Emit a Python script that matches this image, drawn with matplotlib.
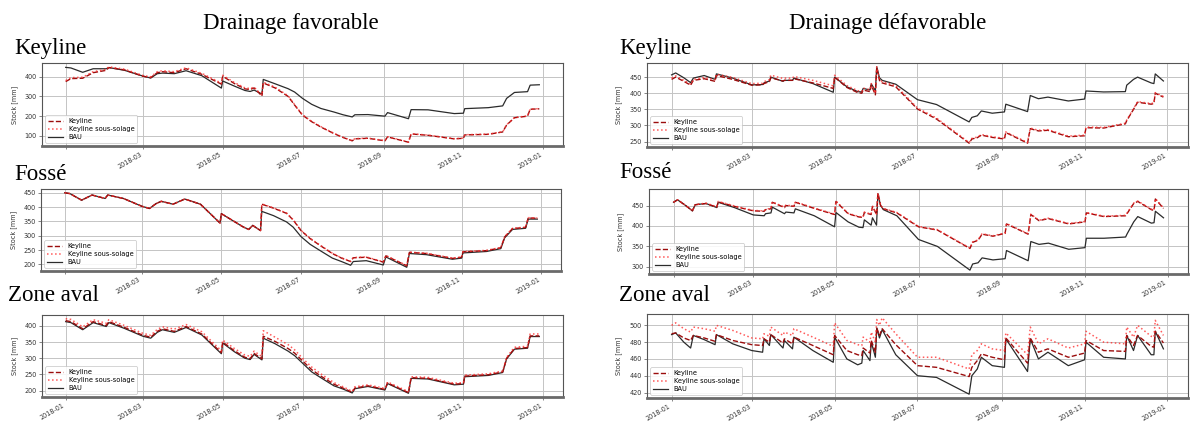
"""Stock d'eau simulé (BAU / Keyline / Keyline sous-solage), drainage favorable vs défavorable."""
import matplotlib

matplotlib.use("Agg")

import matplotlib.dates as mdates
import matplotlib.pyplot as plt
import pandas as pd
from matplotlib.ticker import FuncFormatter, MultipleLocator

W, H = 1192, 428
SERIF = "Liberation Serif"

# --- data (mm) ------------------------------------------------------------

DATES_FAV = [
    "2018-01-01", "2018-01-05", "2018-01-14", "2018-01-22", "2018-02-01", "2018-02-03",
    "2018-02-15", "2018-03-01", "2018-03-07", "2018-03-12", "2018-03-16", "2018-03-25",
    "2018-04-03", "2018-04-15", "2018-04-30", "2018-05-01", "2018-05-10", "2018-05-18",
    "2018-05-22", "2018-05-25", "2018-05-31", "2018-06-01", "2018-06-10", "2018-06-20",
    "2018-06-25", "2018-07-01", "2018-07-08", "2018-07-15", "2018-07-25", "2018-08-01",
    "2018-08-08", "2018-08-10", "2018-08-20",
    "2018-09-02", "2018-09-04", "2018-09-20", "2018-09-22", "2018-10-05", "2018-10-25",
    "2018-11-01", "2018-11-02", "2018-11-20", "2018-12-01", "2018-12-04", "2018-12-10",
    "2018-12-20", "2018-12-22", "2018-12-29",
]

FAV_KEYLINE_BAU = [447, 444, 422, 440, 440, 446, 432, 403, 393, 415, 418, 415, 430, 405, 342,
                   378, 352, 330, 325, 332, 312, 386, 364, 339, 322, 290, 260, 239, 221, 207,
                   196, 207, 208,
                   200, 218, 187, 233, 232, 213, 215, 238, 243, 252, 290, 320, 324, 357, 359]
FAV_KEYLINE_KEY = [375, 390, 392, 420, 432, 446, 434, 402, 395, 420, 425, 420, 440, 412, 362,
                   402, 365, 338, 335, 343, 302, 368, 343, 300, 256, 205, 172, 145, 112, 92,
                   75, 85, 88,
                   75, 95, 68, 110, 103, 85, 88, 105, 108, 120, 155, 192, 200, 235, 237]
FAV_KEYLINE_SOUS = [380, 395, 397, 425, 437, 450, 438, 406, 399, 425, 430, 425, 445, 417, 367,
                    407, 370, 343, 340, 347, 306, 372, 347, 303, 258, 207, 174, 147, 113, 93,
                    76, 86, 89,
                    76, 96, 69, 111, 104, 86, 89, 106, 109, 121, 156, 193, 201, 236, 238]

FAV_FOSSE_BAU = [450, 447, 424, 442, 430, 442, 430, 403, 395, 412, 420, 410, 428, 410, 344,
                 377, 352, 330, 322, 336, 318, 385, 370, 348, 330, 297, 270, 250, 222, 210,
                 197, 210, 213,
                 198, 226, 190, 238, 234, 218, 222, 240, 245, 255, 293, 322, 326, 358, 358]
FAV_FOSSE_KEY = [450, 447, 424, 442, 430, 442, 430, 403, 395, 412, 420, 410, 428, 410, 344,
                 377, 352, 330, 322, 336, 318, 410, 396, 378, 355, 318, 290, 268, 238, 222,
                 210, 223, 225,
                 208, 230, 195, 242, 238, 221, 225, 244, 248, 258, 296, 325, 329, 362, 361]
FAV_FOSSE_SOUS = [450, 447, 424, 442, 430, 442, 430, 403, 395, 412, 420, 410, 428, 410, 344,
                  377, 352, 330, 322, 336, 318, 411, 397, 379, 356, 319, 291, 269, 239, 223,
                  211, 224, 226,
                  209, 231, 196, 243, 239, 222, 226, 245, 249, 259, 297, 326, 330, 363, 362]

FAV_AVAL_BAU = [413, 410, 388, 410, 398, 410, 392, 368, 362, 380, 388, 380, 395, 372, 314,
                347, 320, 300, 296, 312, 295, 362, 345, 322, 308, 285, 258, 240, 215, 205,
                193, 206, 213,
                202, 222, 192, 238, 236, 218, 220, 243, 247, 256, 298, 328, 331, 367, 367]
FAV_AVAL_KEY = [416, 413, 391, 413, 401, 413, 395, 371, 365, 383, 391, 383, 398, 375, 317,
                350, 323, 303, 299, 315, 298, 368, 352, 330, 316, 292, 265, 245, 220, 208,
                195, 208, 215,
                204, 224, 194, 240, 238, 220, 222, 245, 249, 258, 300, 330, 333, 369, 369]
FAV_AVAL_SOUS = [422, 420, 397, 419, 408, 419, 401, 377, 371, 389, 397, 390, 404, 382, 323,
                 356, 330, 310, 306, 322, 305, 385, 365, 342, 326, 300, 273, 252, 225, 212,
                 198, 212, 218,
                 207, 227, 197, 243, 241, 223, 225, 248, 252, 261, 303, 334, 337, 375, 375]

DATES_DEF = [
    "2018-01-01", "2018-01-04", "2018-01-10", "2018-01-15", "2018-01-17", "2018-01-25",
    "2018-02-02", "2018-02-03", "2018-02-15", "2018-03-01", "2018-03-09", "2018-03-10",
    "2018-03-14", "2018-03-15", "2018-03-24", "2018-03-25", "2018-03-31", "2018-04-01",
    "2018-04-15", "2018-04-30", "2018-05-01", "2018-05-10", "2018-05-18", "2018-05-21",
    "2018-05-22", "2018-05-27", "2018-05-28", "2018-05-31", "2018-06-01", "2018-06-03",
    "2018-06-05", "2018-06-15", "2018-07-01", "2018-07-15", "2018-08-08", "2018-08-10",
    "2018-08-14", "2018-08-17", "2018-08-25", "2018-09-03", "2018-09-04", "2018-09-20",
    "2018-09-22", "2018-09-28", "2018-10-05", "2018-10-20", "2018-11-01", "2018-11-02",
    "2018-11-15", "2018-12-01", "2018-12-02", "2018-12-07", "2018-12-10", "2018-12-20",
    "2018-12-22", "2018-12-23", "2018-12-29",
]

DEF_KEYLINE_BAU = [457, 463, 448, 433, 447, 455, 443, 460, 447, 426, 427, 432, 438, 450, 437,
                   440, 440, 447, 430, 403, 450, 420, 405, 404, 415, 410, 429, 408, 482, 448,
                   440, 428, 380, 365, 311, 325, 330, 345, 338, 342, 366, 343, 393, 383, 388,
                   376, 382, 407, 404, 405, 425, 443, 450, 432, 430, 460, 438]
DEF_KEYLINE_KEY = [443, 450, 437, 425, 440, 445, 437, 455, 443, 425, 426, 430, 436, 448, 438,
                   440, 440, 445, 432, 415, 450, 418, 402, 400, 410, 405, 425, 395, 480, 440,
                   432, 420, 351, 320, 245, 258, 262, 270, 263, 258, 278, 245, 290, 283, 285,
                   265, 268, 293, 292, 305, 315, 350, 372, 366, 368, 400, 388]
DEF_KEYLINE_SOUS = [447, 454, 440, 428, 443, 449, 442, 459, 449, 430, 431, 436, 442, 456, 446,
                    447, 447, 452, 440, 423, 456, 424, 408, 406, 416, 411, 430, 400, 482, 444,
                    436, 424, 354, 323, 247, 260, 264, 272, 265, 260, 280, 247, 292, 285, 287,
                    267, 270, 295, 294, 307, 317, 352, 374, 368, 370, 402, 390]

DEF_FOSSE_BAU = [458, 464, 450, 437, 452, 455, 445, 458, 445, 427, 425, 430, 432, 446, 430,
                 434, 432, 442, 425, 398, 433, 410, 397, 396, 415, 402, 420, 402, 479, 450,
                 440, 425, 367, 350, 292, 307, 310, 322, 317, 320, 340, 315, 362, 355, 358,
                 343, 347, 370, 370, 373, 380, 410, 423, 407, 408, 436, 420]
DEF_FOSSE_KEY = [458, 464, 450, 437, 452, 455, 446, 459, 448, 437, 436, 440, 442, 458, 445,
                 450, 448, 458, 443, 428, 460, 430, 422, 421, 433, 428, 448, 428, 480, 450,
                 442, 432, 398, 390, 345, 360, 365, 380, 375, 382, 405, 380, 428, 413, 418,
                 405, 410, 432, 423, 425, 430, 455, 460, 440, 438, 466, 443]
DEF_FOSSE_SOUS = [458, 464, 450, 437, 452, 456, 447, 460, 449, 438, 437, 441, 443, 459, 446,
                  451, 449, 459, 444, 429, 461, 431, 423, 422, 434, 429, 449, 429, 481, 451,
                  443, 433, 399, 391, 346, 361, 366, 381, 376, 383, 406, 381, 429, 414, 419,
                  406, 411, 433, 424, 426, 431, 456, 461, 441, 439, 467, 444]

DEF_AVAL_BAU = [489, 491, 480, 473, 488, 483, 477, 489, 478, 470, 468, 484, 476, 489, 473,
                482, 472, 486, 470, 456, 486, 460, 453, 455, 470, 458, 480, 462, 497, 485,
                495, 465, 440, 438, 418, 440, 448, 462, 452, 450, 484, 445, 484, 460, 468,
                452, 459, 480, 462, 460, 488, 470, 488, 465, 465, 493, 472]
DEF_AVAL_KEY = [490, 491, 485, 482, 488, 485, 481, 489, 482, 477, 476, 484, 480, 489, 479,
                484, 478, 486, 476, 465, 488, 470, 465, 464, 473, 467, 482, 468, 497, 488,
                496, 477, 452, 450, 439, 450, 458, 466, 462, 459, 485, 455, 485, 468, 472,
                462, 467, 482, 470, 469, 488, 476, 488, 475, 474, 493, 479]
DEF_AVAL_SOUS = [500, 503, 496, 492, 498, 496, 493, 500, 494, 485, 484, 490, 487, 498, 488,
                 492, 488, 496, 486, 475, 503, 482, 477, 476, 486, 480, 492, 480, 507, 500,
                 509, 490, 462, 462, 448, 465, 470, 478, 472, 470, 491, 465, 498, 478, 484,
                 473, 478, 493, 480, 478, 498, 486, 500, 487, 486, 506, 488]

COLUMN_TITLES = ["Drainage favorable", "Drainage défavorable"]
ROW_TITLES = ["Keyline", "Fossé", "Zone aval"]
SERIES_LABELS = ["Keyline", "Keyline sous-solage", "BAU"]
Y_STEPS = [[100, 50, 50], [50, 50, 20]]

# axes boxes in pixels: left, top, right, bottom
AX_BOXES = [
    [(42, 63, 563, 146), (41, 189, 561, 271), (42, 315, 563, 397)],
    [(647, 63, 1188, 147), (649, 189, 1188, 274), (647, 314, 1188, 398)],
]


def add_px_axes(fig, box):
    left, top, right, bottom = box
    return fig.add_axes([left / W, 1 - bottom / H, (right - left) / W, (bottom - top) / H])


def fig_text(fig, x, y, s, **kw):
    fig.text(x / W, 1 - y / H, s, **kw)


def draw_panel(ax, dates, key, sous, bau, ystep, hide_first):
    ax.plot(dates, key, color="#9b0d0d", linestyle="--", lw=1.0, label=SERIES_LABELS[0], zorder=3)
    ax.plot(dates, sous, color="#ff3030", linestyle=":", lw=1.1, alpha=0.8,
            label=SERIES_LABELS[1], zorder=3)
    ax.plot(dates, bau, color="#2b2b2b", lw=0.9, label=SERIES_LABELS[2], zorder=2)

    ax.yaxis.set_major_locator(MultipleLocator(ystep))
    ax.xaxis.set_major_locator(mdates.MonthLocator(bymonth=[1, 3, 5, 7, 9, 11]))

    def fmt(x, pos):
        d = mdates.num2date(x)
        if hide_first and d.year == 2018 and d.month == 1:
            return ""
        return d.strftime("%Y-%m")

    ax.xaxis.set_major_formatter(FuncFormatter(fmt))
    ax.tick_params(axis="both", labelsize=4.7, labelcolor="#333333", length=2.5, width=0.5,
                   color="#555555", pad=1.5)
    ax.tick_params(axis="x", labelrotation=30)
    plt.setp(ax.get_xticklabels(), ha="right")

    ax.grid(True, color="#c4c4c4", lw=0.7)
    ax.set_axisbelow(True)
    for sp in ax.spines.values():
        sp.set_color("#555555")
        sp.set_linewidth(0.8)
    ax.spines["bottom"].set_linewidth(2.0)
    ax.spines["bottom"].set_color("#6a6a6a")

    ax.set_ylabel("Stock [mm]", fontsize=4.7, color="#333333")
    ax.yaxis.set_label_coords(-0.046, 0.5)

    leg = ax.legend(loc="lower left", fontsize=4.8, labelspacing=0.3, handlelength=2.3,
                    borderpad=0.4, framealpha=0.85, fancybox=True)
    leg.get_frame().set_edgecolor("#bbbbbb")
    leg.get_frame().set_linewidth(0.5)


def main():
    fig = plt.figure(figsize=(W / 100, H / 100), dpi=100)
    fig.patch.set_facecolor("white")

    fav_dates = pd.to_datetime(DATES_FAV)
    def_dates = pd.to_datetime(DATES_DEF)

    columns = [
        (fav_dates, [(FAV_KEYLINE_KEY, FAV_KEYLINE_SOUS, FAV_KEYLINE_BAU),
                     (FAV_FOSSE_KEY, FAV_FOSSE_SOUS, FAV_FOSSE_BAU),
                     (FAV_AVAL_KEY, FAV_AVAL_SOUS, FAV_AVAL_BAU)]),
        (def_dates, [(DEF_KEYLINE_KEY, DEF_KEYLINE_SOUS, DEF_KEYLINE_BAU),
                     (DEF_FOSSE_KEY, DEF_FOSSE_SOUS, DEF_FOSSE_BAU),
                     (DEF_AVAL_KEY, DEF_AVAL_SOUS, DEF_AVAL_BAU)]),
    ]

    for c, (dates, rows) in enumerate(columns):
        for r, (key, sous, bau) in enumerate(rows):
            ax = add_px_axes(fig, AX_BOXES[c][r])
            draw_panel(ax, dates, key, sous, bau, Y_STEPS[c][r], hide_first=(r < 2))

    # column headers and row labels (serif, like the document they were pasted in)
    fig_text(fig, 291, 29, COLUMN_TITLES[0], family=SERIF, fontsize=16.5, ha="center", va="baseline")
    fig_text(fig, 888, 29, COLUMN_TITLES[1], family=SERIF, fontsize=16.5, ha="center", va="baseline")

    row_pos = [[(14, 54), (14, 180), (8, 301)], [(619, 54), (619, 178), (619, 301)]]
    for c in range(2):
        for r, name in enumerate(ROW_TITLES):
            x, y = row_pos[c][r]
            fig_text(fig, x, y, name, family=SERIF, fontsize=16.5, ha="left", va="baseline")

    fig.savefig("out.png", dpi=100, facecolor="white")
    plt.close(fig)


if __name__ == "__main__":
    main()
